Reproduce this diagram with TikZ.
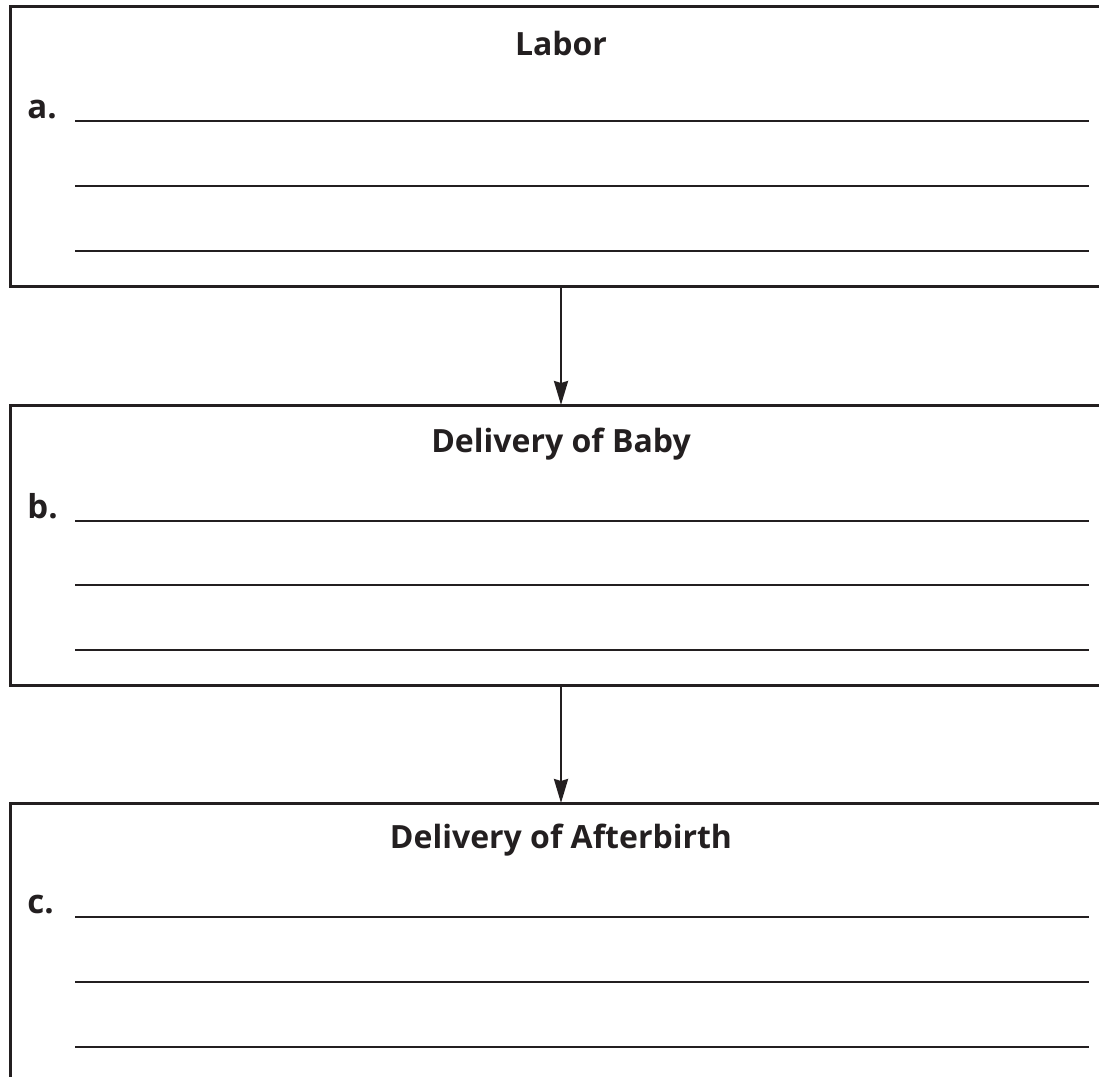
\documentclass[tikz,border=0pt]{standalone}
\usepackage{fontspec}
\setmainfont{Open Sans}
\usetikzlibrary{arrows.meta}
\definecolor{ink}{RGB}{35,31,32}
\begin{document}
\begin{tikzpicture}[x=0.5pt,y=-0.5pt,
    stagebox/.style={draw=ink, line width=1.5pt, outer sep=0pt, inner sep=0pt,
      minimum width=551pt, minimum height=140pt, anchor=north west},
    stagetitle/.style={anchor=base, text=ink, font=\bfseries\fontsize{16}{19}\selectfont},
    stagelabel/.style={anchor=base west, inner sep=0pt, text=ink, font=\bfseries\fontsize{16.5}{19}\selectfont},
    answer/.style={draw=ink, line width=1pt},
    flow/.style={draw=ink, line width=1.2pt, -{Stealth[length=12pt,width=7pt,inset=1pt]}}]
  \useasboundingbox (0,0) rectangle (1099,1077);
  \clip (0,0) rectangle (1099,1077);

  % the three stages
  \node[stagebox] (labor) at (10,6) {};
  \node[stagebox] (baby) at (10,405) {};
  \node[stagebox, minimum height=150pt] (afterbirth) at (10,803) {};

  \node[stagetitle] (labortitle) at (561,55) {Labor};
  \node[stagetitle] (babytitle) at (561,452) {Delivery of Baby};
  \node[stagetitle] (afterbirthtitle) at (561,848) {Delivery of Afterbirth};

  \node[stagelabel] (laborlabel) at (27,118) {a.};
  \node[stagelabel] (babylabel) at (27,518) {b.};
  \node[stagelabel] (afterbirthlabel) at (27,913) {c.};

  % lines to write on
  \foreach \y in {121,186,251,521,585,650,917,982,1047}
    \draw[answer] (75,\y) -- (1089,\y);

  \draw[flow] (labor.south) -- (baby.north);
  \draw[flow] (baby.south) -- (afterbirth.north);
\end{tikzpicture}
\end{document}
